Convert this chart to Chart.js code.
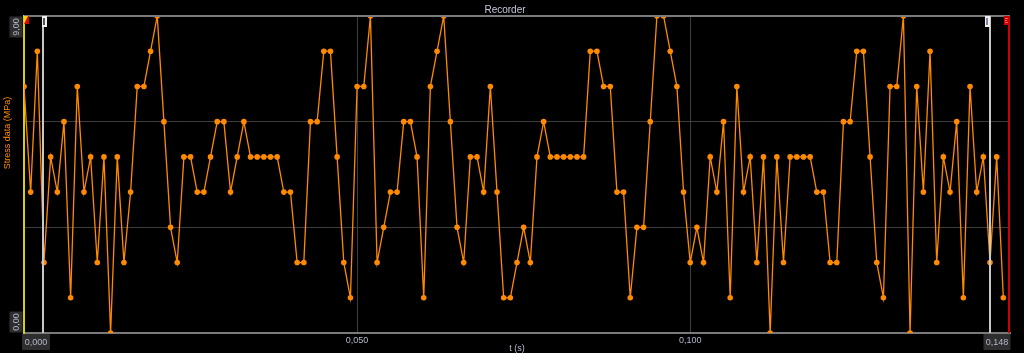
<!DOCTYPE html>
<html>
<head>
<meta charset="utf-8">
<script src="https://cdn.jsdelivr.net/npm/chart.js@4/dist/chart.umd.min.js"></script>
<style>
  html, body { margin: 0; padding: 0; background: #000; }
  #wrap { width: 1024px; height: 353px; }
</style>
</head>
<body>
<div id="wrap"><canvas id="rec"></canvas></div>
<script>
// stress samples, one every millisecond starting at t = 0
const sampleStep = 0.001;
const stress = [
    7, 4, 8, 2, 5, 4, 6, 1, 7, 4, 5, 2, 5, 0, 5, 2, 4, 7, 7, 8,
    9, 6, 3, 2, 5, 5, 4, 4, 5, 6, 6, 4, 5, 6, 5, 5, 5, 5, 5, 4,
    4, 2, 2, 6, 6, 8, 8, 5, 2, 1, 7, 7, 9, 2, 3, 4, 4, 6, 6, 5,
    1, 7, 8, 9, 6, 3, 2, 5, 5, 4, 7, 4, 1, 1, 2, 3, 2, 5, 6, 5,
    5, 5, 5, 5, 5, 8, 8, 7, 7, 4, 4, 1, 3, 3, 6, 9, 9, 8, 7, 4,
    2, 3, 2, 5, 4, 6, 1, 7, 4, 5, 2, 5, 0, 5, 2, 5, 5, 5, 5, 4,
    4, 2, 2, 6, 6, 8, 8, 5, 2, 1, 7, 7, 9, 0, 7, 4, 8, 2, 5, 4,
    6, 1, 7, 4, 5, 2, 5, 1
];
const xTicks = [0.05, 0.10];
const yTicks = [0, 3, 6, 9];
const xEndLabels = ['0,000', '0,148'];
const yEndLabels = ['0,00', '9,00'];
const cursorTimes = [0.00285, 0.1450];
const tMax = 0.148;

const points = stress.map((v, i) => ({ x: i * sampleStep, y: v }));

const textColor = '#b4b8cc';
const fontFamily = '"Liberation Sans", Arial, sans-serif';
const labelFont = '9px ' + fontFamily;

function boxLabel(ctx, text, cx, cy, w, h, rotate) {
    ctx.save();
    ctx.translate(cx, cy);
    if (rotate) ctx.rotate(-Math.PI / 2);
    ctx.fillStyle = '#2e2e2e';
    ctx.fillRect(-w / 2, -h / 2, w, h);
    ctx.fillStyle = textColor;
    ctx.font = labelFont;
    ctx.textAlign = 'center';
    ctx.textBaseline = 'middle';
    ctx.fillText(text, 0, 1);
    ctx.restore();
}

const decorations = {
    id: 'decorations',
    afterDraw(chart) {
        const ctx = chart.ctx;
        const a = chart.chartArea;
        const xs = chart.scales.x;
        const ys = chart.scales.y;

        // top frame
        ctx.save();
        ctx.strokeStyle = '#7a7a7a';
        ctx.lineWidth = 2;
        ctx.beginPath();
        ctx.moveTo(a.left, a.top);
        ctx.lineTo(a.right, a.top);
        ctx.stroke();

        // cursors
        cursorTimes.forEach((t, i) => {
            const px = Math.round(xs.getPixelForValue(t));
            ctx.fillStyle = '#c8c8c8';
            ctx.fillRect(px - 1, a.top, 2, a.bottom - a.top);
            ctx.fillStyle = '#f0f0f0';
            ctx.fillRect(i === 0 ? px - 1 : px - 5, a.top, 5, 11);
            ctx.fillStyle = i === 0 ? '#555' : '#8a7fa0';
            ctx.fillRect(i === 0 ? px : px - 4, a.top + 2, 2, 7);
        });

        // end marker
        const rx = Math.round(xs.getPixelForValue(tMax));
        ctx.fillStyle = '#d00000';
        ctx.fillRect(rx - 2, a.top, 2, a.bottom - a.top);
        ctx.fillRect(rx - 6, a.top, 6, 9);
        ctx.fillStyle = '#ff6060';
        ctx.fillRect(rx - 5, a.top + 2, 3, 1);
        ctx.fillRect(rx - 5, a.top + 4, 2, 1);
        ctx.fillRect(rx - 5, a.top + 6, 3, 1);

        // start marker
        ctx.fillStyle = '#e00000';
        ctx.fillRect(a.left, a.top, 5, 8);
        ctx.fillStyle = '#ffd800';
        ctx.beginPath();
        ctx.moveTo(a.left, a.top);
        ctx.lineTo(a.left + 4, a.top);
        ctx.lineTo(a.left, a.top + 8);
        ctx.closePath();
        ctx.fill();

        // axis end labels
        boxLabel(ctx, xEndLabels[0], a.left + 12, a.bottom + 9, 28, 16, false);
        boxLabel(ctx, xEndLabels[1], a.right - 13, a.bottom + 9, 27, 16, false);
        boxLabel(ctx, yEndLabels[0], 16, ys.getPixelForValue(0) - 11, 21, 13, true);
        boxLabel(ctx, yEndLabels[1], 16, ys.getPixelForValue(9) + 11, 21, 13, true);

        // y axis title
        ctx.translate(8, 133);
        ctx.rotate(-Math.PI / 2);
        ctx.fillStyle = '#ff8c00';
        ctx.font = labelFont;
        ctx.textAlign = 'center';
        ctx.textBaseline = 'middle';
        ctx.fillText('Stress data (MPa)', 0, 0);
        ctx.restore();
    }
};

new Chart(document.getElementById('rec'), {
    type: 'line',
    data: {
        datasets: [{
            data: points,
            borderColor: '#ff8a00',
            backgroundColor: '#ff8a00',
            borderWidth: 1.3,
            pointRadius: 2.8,
            pointBorderWidth: 0,
            tension: 0
        }]
    },
    options: {
        responsive: true,
        maintainAspectRatio: false,
        animation: false,
        layout: { padding: { left: 0, right: 14, top: 0, bottom: 0 } },
        plugins: {
            legend: { display: false },
            tooltip: { enabled: false },
            title: {
                display: true,
                text: 'Recorder',
                color: '#c4c8d8',
                font: { family: fontFamily, size: 10, weight: 'normal' },
                padding: { top: 4, bottom: 0 }
            }
        },
        scales: {
            x: {
                type: 'linear',
                min: 0,
                max: tMax,
                afterBuildTicks: (s) => { s.ticks = xTicks.map(v => ({ value: v })); },
                afterFit: (s) => { s.height = 20; },
                ticks: {
                    color: textColor,
                    font: { family: fontFamily, size: 9 },
                    padding: 2,
                    maxRotation: 0,
                    callback: (v) => v.toFixed(3).replace('.', ',')
                },
                grid: { color: '#3c3c3c', lineWidth: 1, drawTicks: false },
                border: { color: '#7a7a7a', width: 2 },
                title: {
                    display: true,
                    text: 't (s)',
                    color: textColor,
                    font: { family: fontFamily, size: 9 },
                    padding: { top: 0, bottom: -1 }
                }
            },
            y: {
                min: 0,
                max: 9,
                afterBuildTicks: (s) => { s.ticks = yTicks.map(v => ({ value: v })); },
                afterFit: (s) => { s.width = 24; },
                ticks: { display: false },
                grid: { color: '#3c3c3c', lineWidth: 1, drawTicks: false },
                border: { color: '#d8d000', width: 2 }
            }
        }
    },
    plugins: [decorations]
});
</script>
</body>
</html>
